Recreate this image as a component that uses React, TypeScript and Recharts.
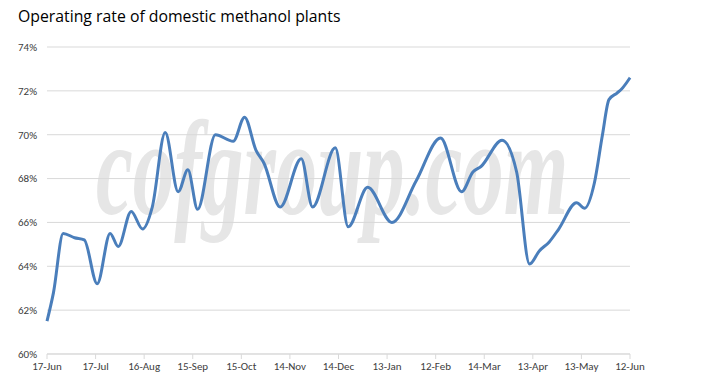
import { CartesianGrid, Line, LineChart, XAxis, YAxis } from "recharts";

// days since 17-Jun
const days = [
  0, 4, 10, 17, 23, 31, 39, 44, 52, 59, 65, 73, 81, 87, 93, 104, 115, 122, 129, 134, 144,
  157, 164, 178, 186, 198, 213, 228, 243, 256, 263, 268, 281, 290, 298, 304, 310, 316, 327,
  332, 338, 343, 347, 352, 355, 360,
];
const rates = [
  61.5, 62.8, 65.5, 65.3, 65.2, 63.2, 65.5, 64.9, 66.5, 65.7, 66.7, 70.1, 67.4, 68.4, 66.6,
  70.0, 69.7, 70.8, 69.3, 68.7, 66.7, 68.9, 66.7, 69.4, 65.8, 67.6, 66.0, 67.9, 69.85, 67.4,
  68.3, 68.55, 69.75, 68.3, 64.1, 64.7, 65.1, 65.7, 66.9, 66.65, 67.8, 70.0, 71.6, 71.9,
  72.1, 72.6,
];
const tickDays = [0, 30, 60, 90, 120, 150, 180, 210, 240, 270, 300, 330, 360];
const tickLabels = [
  "17-Jun", "17-Jul", "16-Aug", "15-Sep", "15-Oct", "14-Nov", "14-Dec",
  "13-Jan", "12-Feb", "14-Mar", "13-Apr", "13-May", "12-Jun",
];
const yTicks = [60, 62, 64, 66, 68, 70, 72, 74];

const data = days.map((d, i) => ({ day: d, rate: rates[i] }));

const font = "Calibri, Carlito, 'Liberation Sans Narrow', 'Liberation Sans', sans-serif";

export default function App() {
  return (
    <div
      style={{
        position: "absolute",
        left: 0,
        top: 0,
        width: 706,
        height: 388,
        background: "#fff",
        overflow: "hidden",
      }}
    >
      <svg width={706} height={388} style={{ position: "absolute", left: 0, top: 0 }}>
        <text
          transform="translate(96,214) scale(0.61,1)"
          fontFamily="'Liberation Serif', 'DejaVu Serif', serif"
          fontStyle="italic"
          fontWeight="bold"
          fontSize={136}
          fill="#e6e6e6"
        >
          cofgroup.com
        </text>
      </svg>
      <div
        style={{
          position: "absolute",
          left: 18,
          top: 5,
          fontFamily: "'Open Sans', sans-serif",
          fontSize: 15.8,
          color: "#000",
          whiteSpace: "nowrap",
        }}
      >
        Operating rate of domestic methanol plants
      </div>
      <div style={{ position: "absolute", left: 0, top: 0 }}>
        <LineChart
          width={706}
          height={388}
          data={data}
          margin={{ top: 47, right: 76, left: 0, bottom: 4 }}
        >
          <CartesianGrid vertical={false} stroke="#d9d9d9" />
          <XAxis
            dataKey="day"
            type="number"
            domain={[0, 360]}
            ticks={tickDays}
            tickFormatter={(v: number) => tickLabels[tickDays.indexOf(v)] ?? ""}
            height={30}
            stroke="#d9d9d9"
            tickSize={5}
            tickMargin={3}
            tick={{ fill: "#404040", fontSize: 11, fontFamily: font }}
            interval={0}
          />
          <YAxis
            domain={[60, 74]}
            ticks={yTicks}
            width={47}
            axisLine={false}
            tickLine={false}
            tickMargin={4}
            tickFormatter={(v: number) => `${v}%`}
            tick={{ fill: "#404040", fontSize: 11, fontFamily: font }}
          />
          <Line
            dataKey="rate"
            type="monotone"
            stroke="#4a7ebb"
            strokeWidth={3}
            dot={false}
            isAnimationActive={false}
          />
        </LineChart>
      </div>
    </div>
  );
}
